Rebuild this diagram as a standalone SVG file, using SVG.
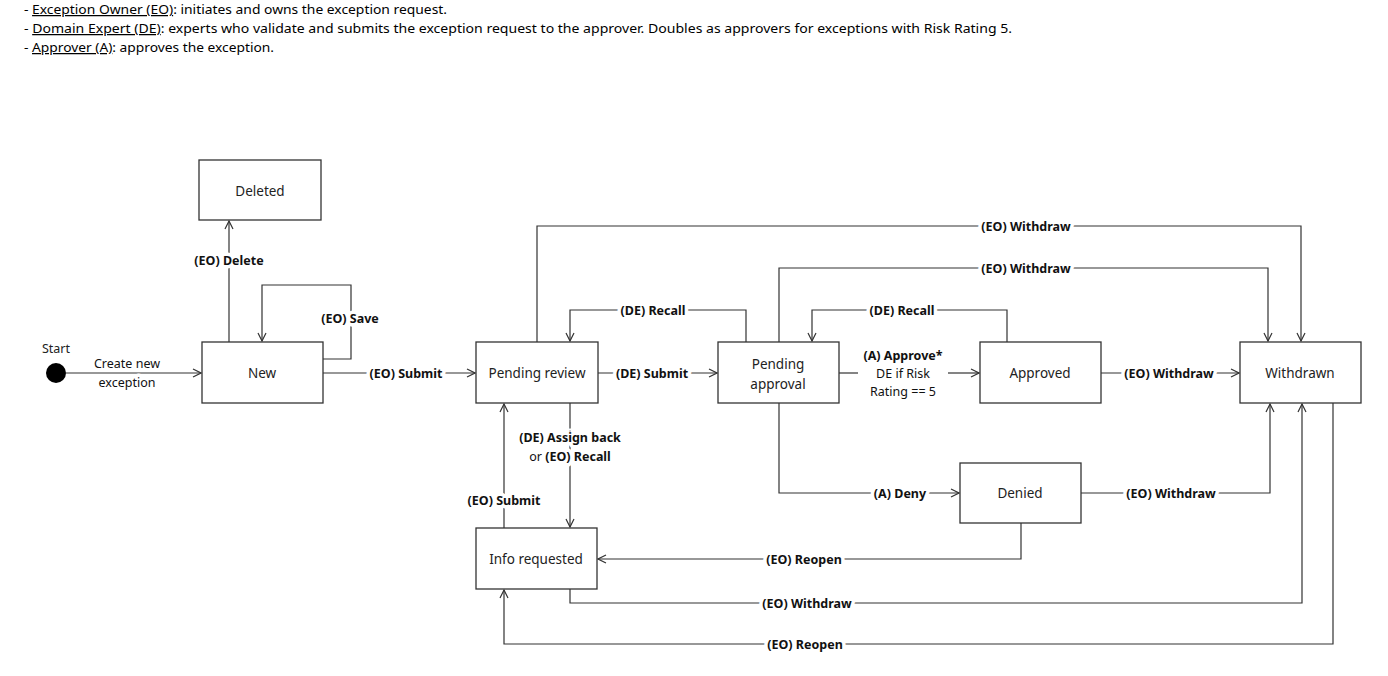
<svg xmlns="http://www.w3.org/2000/svg" width="1388" height="676" viewBox="0 0 1388 676">
<defs>
<marker id="arr" markerWidth="10" markerHeight="10" refX="9" refY="5" orient="auto" markerUnits="userSpaceOnUse"><path d="M1,1 L9,5 L1,9" fill="none" stroke="#333" stroke-width="1.2"/></marker>
<style>
.hdr{font-family:"Noto Sans","Open Sans",sans-serif;font-size:12.5px;fill:#000}
.u{text-decoration:underline}
.box{fill:#fff;stroke:#333;stroke-width:1.3}
.nt{font-family:"Noto Sans","Open Sans",sans-serif;font-size:13.5px;fill:#222;text-anchor:middle}
.c{fill:none;stroke:#333;stroke-width:1.2}
.ca{fill:none;stroke:#333;stroke-width:1.2;marker-end:url(#arr)}
.lb{font-family:"Noto Sans","Open Sans",sans-serif;font-size:12.5px;font-weight:bold;fill:#111;text-anchor:middle;stroke:#fff;stroke-width:7;paint-order:stroke;stroke-linejoin:round}
.lr{font-family:"Noto Sans","Open Sans",sans-serif;font-size:12.5px;fill:#111;text-anchor:middle;stroke:#fff;stroke-width:7;paint-order:stroke;stroke-linejoin:round}
.b{font-weight:bold}
</style>
</defs>
<rect width="1388" height="676" fill="#fff"/>
<g id="legend">
<text class="hdr" x="24" y="14" textLength="423" lengthAdjust="spacingAndGlyphs">- <tspan class="u">Exception Owner (EO)</tspan>: initiates and owns the exception request.</text>
<text class="hdr" x="24" y="33" textLength="988" lengthAdjust="spacingAndGlyphs">- <tspan class="u">Domain Expert (DE)</tspan>: experts who validate and submits the exception request to the approver. Doubles as approvers for exceptions with Risk Rating 5.</text>
<text class="hdr" x="24" y="52" textLength="250" lengthAdjust="spacingAndGlyphs">- <tspan class="u">Approver (A)</tspan>: approves the exception.</text>
</g>
<g id="connectors">
<path class="ca" d="M66,373 H201"/>
<path class="ca" d="M229,342 V221"/>
<path class="ca" d="M323,359 H351 V285 H262 V341"/>
<path class="ca" d="M323,373 H475"/>
<path class="ca" d="M598,373 H717"/>
<path class="c" d="M839,373 H858"/>
<path class="ca" d="M948,373 H979"/>
<path class="ca" d="M1101,373 H1239"/>
<path class="ca" d="M537,342 V226 H1301 V341"/>
<path class="ca" d="M779,342 V268 H1268 V341"/>
<path class="ca" d="M746,342 V310 H570 V341"/>
<path class="ca" d="M1007,342 V310 H812 V341"/>
<path class="ca" d="M779,403 V493 H959"/>
<path class="ca" d="M1081,493 H1270 V404"/>
<path class="ca" d="M1021,523 V559 H598"/>
<path class="ca" d="M570,589 V603 H1302 V404"/>
<path class="ca" d="M1333,403 V644 H504 V590"/>
<path class="ca" d="M504,528 V404"/>
<path class="ca" d="M570,403 V527"/>
<text class="lr" x="127" y="368">Create new</text>
<text class="lr" x="127" y="387">exception</text>
<text class="lb" x="229" y="265">(EO) Delete</text>
<text class="lb" x="350" y="323">(EO) Save</text>
<text class="lb" x="406" y="378">(EO) Submit</text>
<text class="lb" x="652" y="378">(DE) Submit</text>
<text class="lb" x="903" y="360">(A) Approve*</text>
<text class="lr" x="903" y="378">DE if Risk</text>
<text class="lr" x="903" y="396">Rating == 5</text>
<text class="lb" x="1169" y="378">(EO) Withdraw</text>
<text class="lb" x="1026" y="231">(EO) Withdraw</text>
<text class="lb" x="1026" y="273">(EO) Withdraw</text>
<text class="lb" x="653" y="315">(DE) Recall</text>
<text class="lb" x="902" y="315">(DE) Recall</text>
<text class="lb" x="900" y="498">(A) Deny</text>
<text class="lb" x="1171" y="498">(EO) Withdraw</text>
<text class="lb" x="804" y="564">(EO) Reopen</text>
<text class="lb" x="807" y="608">(EO) Withdraw</text>
<text class="lb" x="805" y="649">(EO) Reopen</text>
<text class="lb" x="504" y="505">(EO) Submit</text>
<text class="lb" x="570" y="442">(DE) Assign back</text>
<text class="lr" x="570" y="461">or <tspan class="b">(EO) Recall</tspan></text>
</g>
<g id="start">
<circle cx="56" cy="373" r="10" fill="#000"/>
<text class="nt" x="56" y="353" style="font-size:12.5px">Start</text>
</g>
<g id="deleted"><rect class="box" x="199" y="160" width="122" height="60"/><text class="nt" x="260" y="196">Deleted</text></g>
<g id="new"><rect class="box" x="202" y="342" width="121" height="61"/><text class="nt" x="262" y="378">New</text></g>
<g id="pending-review"><rect class="box" x="476" y="342" width="122" height="61"/><text class="nt" x="537" y="378">Pending review</text></g>
<g id="pending-approval"><rect class="box" x="718" y="342" width="121" height="61"/><text class="nt" x="778" y="369">Pending</text><text class="nt" x="778" y="389">approval</text></g>
<g id="approved"><rect class="box" x="980" y="342" width="121" height="61"/><text class="nt" x="1040" y="378">Approved</text></g>
<g id="withdrawn"><rect class="box" x="1240" y="342" width="121" height="61"/><text class="nt" x="1300" y="378">Withdrawn</text></g>
<g id="denied"><rect class="box" x="960" y="463" width="121" height="60"/><text class="nt" x="1020" y="498">Denied</text></g>
<g id="info-requested"><rect class="box" x="476" y="528" width="121" height="61"/><text class="nt" x="536" y="564">Info requested</text></g>
</svg>
